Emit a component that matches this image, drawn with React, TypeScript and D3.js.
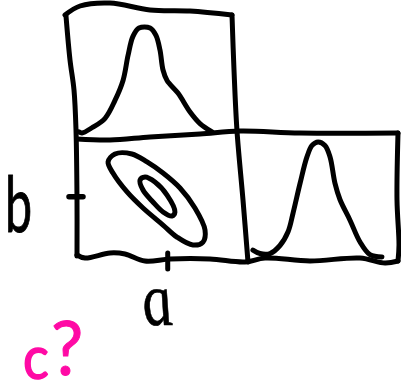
import * as d3 from 'd3'

// values: both parameters run 0..10, density 0..1
const topA = [0.12, 0.3, 0.89, 1.67, 2.26, 2.74, 3.04, 3.33, 3.69, 4.35, 4.7, 4.94, 5.12, 5.36, 6.01, 6.73, 7.32, 8.04]
const topDensity = [0.01, 0, 0.05, 0.14, 0.31, 0.5, 0.74, 0.92, 1, 1, 0.93, 0.79, 0.6, 0.5, 0.38, 0.2, 0.09, 0.01]

const rightB = [0.33, 0.8, 1.47, 2.13, 2.67, 3, 3.47, 3.93, 4.27, 4.67, 5.13, 5.47, 5.8, 6.13, 6.8, 7.47, 8.13, 8.93]
const rightDensity = [0.06, 0.03, 0.03, 0.1, 0.22, 0.38, 0.64, 0.87, 0.97, 1, 0.97, 0.87, 0.64, 0.5, 0.32, 0.13, 0.02, 0]

const outerA = [1.85, 2.26, 3.27, 4.17, 5.12, 6.13, 7.02, 7.62, 7.5, 6.9, 5.95, 5.12, 3.93, 2.98, 2.14]
const outerB = [8.07, 8.74, 8.74, 8.07, 7.14, 5.88, 4.2, 2.35, 1.34, 1.09, 1.76, 2.77, 4.2, 5.55, 7.14]
const innerA = [3.75, 4.05, 4.64, 5.36, 5.83, 5.65, 5.12, 4.52, 3.93]
const innerB = [6.55, 6.81, 6.39, 5.29, 3.87, 3.53, 3.87, 4.71, 5.71]

const tickA = 5.4
const tickB = 5.1

// wobbly panel borders, in page units
const borderTopX = [65, 80, 110, 150, 190, 232]
const borderTopY = [15, 6, 3, 10, 11, 15]
const borderLeftX = [66, 70, 74, 76, 77, 77]
const borderLeftY = [16, 60, 90, 130, 200, 256]
const borderMidX = [77, 110, 150, 200, 240, 300, 398]
const borderMidY = [139, 140, 137, 134, 131, 133, 133]
const borderInnerX = [232, 234, 237, 243, 248]
const borderInnerY = [15, 70, 131, 200, 262]
const borderRightX = [398, 397, 399, 398]
const borderRightY = [133, 200, 245, 261]
const borderBottomX = [77, 85, 110, 125, 145, 170, 210, 245, 265, 310, 360, 385, 398]
const borderBottomY = [255, 258, 253, 254, 261, 259, 259, 262, 258, 261, 258, 263, 261]

const INK = '#000'
const PINK = '#ff0aa5'

const x = d3.scaleLinear().domain([0, 10]).range([77, 245])
const y = d3.scaleLinear().domain([0, 10]).range([258, 139])
const xRight = d3.scaleLinear().domain([0, 10]).range([248, 398])
const densTop = d3.scaleLinear().domain([0, 1]).range([133, 28])
const densRight = d3.scaleLinear().domain([0, 1]).range([257, 142])
const page = d3.scaleLinear().domain([0, 401]).range([0, 401])

type P = [number, number]
const zip = (xs: number[], ys: number[]): P[] => xs.map((v, i) => [v, ys[i]])

const open = d3.line().curve(d3.curveCatmullRom.alpha(0.5))
const closed = d3.line().curve(d3.curveCatmullRomClosed.alpha(0.5))

export default function App() {
  const border = (xs: number[], ys: number[]) =>
    open(zip(xs, ys).map(([a, b]) => [page(a), page(b)] as P)) as string

  const paths = [
    border(borderTopX, borderTopY),
    border(borderLeftX, borderLeftY),
    border(borderMidX, borderMidY),
    border(borderInnerX, borderInnerY),
    border(borderRightX, borderRightY),
    border(borderBottomX, borderBottomY),
    open(zip(topA, topDensity).map(([a, d]) => [x(a), densTop(d)] as P)) as string,
    open(zip(rightB, rightDensity).map(([b, d]) => [xRight(b), densRight(d)] as P)) as string,
    closed(zip(outerA, outerB).map(([a, b]) => [x(a), y(b)] as P)) as string,
    closed(zip(innerA, innerB).map(([a, b]) => [x(a), y(b)] as P)) as string,
  ]

  const label = { fontFamily: 'Lato', strokeLinejoin: 'round' as const }

  return (
    <svg width={401} height={392} style={{ position: 'absolute', left: 0, top: 0 }}>
      <rect width={401} height={392} fill="#fff" />
      <g fill="none" stroke={INK} strokeWidth={5} strokeLinecap="round" strokeLinejoin="round">
        {paths.map((d, i) => <path key={i} d={d} />)}
        <line x1={x(tickA)} x2={x(tickA)} y1={253} y2={269} />
        <line x1={69} x2={83} y1={y(tickB) - 0.5} y2={y(tickB) - 0.5} strokeWidth={5.5} />
      </g>
      <g {...label} fill={INK} stroke={INK}>
        <text transform="translate(5,232) scale(0.62,1)" fontSize={78} strokeWidth={1}>b</text>
        <text
          transform="translate(146,325) skewX(12) scale(0.8,1)"
          fontFamily="Liberation Serif"
          fontStyle="italic"
          fontSize={76}
          strokeWidth={0.6}
        >
          a
        </text>
      </g>
      <g {...label} fill={PINK} stroke={PINK}>
        <text transform="translate(23,379) scale(0.9,1)" fontSize={60} strokeWidth={1.5}>c</text>
        <text transform="translate(51,375) scale(0.95,1)" fontSize={76} strokeWidth={1}>?</text>
      </g>
    </svg>
  )
}
